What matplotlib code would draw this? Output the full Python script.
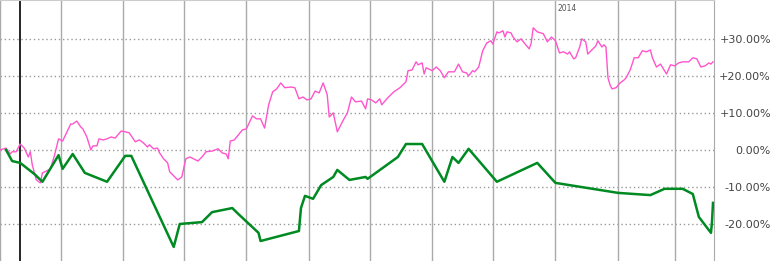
import numpy as np
import matplotlib
matplotlib.use("Agg")
import matplotlib.pyplot as plt
import matplotlib.dates as mdates

# day offsets from 2013-04-01, values in percent
start = np.datetime64("2013-04-01")
marker_day = 10

pink_days = [0, 3, 5, 6, 8, 10, 12, 14, 15, 16, 18, 20, 21, 23, 25, 27, 29, 31, 35, 36,
             38, 40, 41, 43, 45, 46, 48, 49, 51, 53, 55, 57, 60, 62, 64, 67, 69, 71, 73, 74,
             76, 78, 79, 81, 83, 84, 86, 88, 90, 92, 94, 98, 100, 102, 105, 108, 110, 112, 113, 114,
             116, 120, 122, 125, 127, 129, 131, 133, 135, 137, 139, 141, 144, 146, 148, 150, 152, 154, 156, 158,
             160, 162, 163, 165, 167, 170, 172, 174, 176, 179, 181, 182, 184, 186, 188, 189, 192, 195, 198, 201,
             202, 204, 206, 207, 209, 210, 211, 214, 216, 218, 220, 222, 225, 227, 229, 231, 232, 234, 235, 237,
             239, 241, 243, 244, 246, 247, 249, 250, 251, 253, 254, 256, 258, 260, 262, 263, 264, 266, 269, 271,
             273, 275, 277, 279, 281, 282, 284, 285, 287, 288, 290, 291, 293, 295, 296, 298, 299, 300, 301, 302,
             303, 305, 307, 309, 310, 312, 314, 316, 318, 320, 322, 323, 325, 327, 330, 332, 334, 336, 338, 341,
             343, 345, 347, 349, 351, 352, 353]
pink_vals = [0.0, 0.5, -1.1, -0.5, -0.5, 1.6, 0.5, -1.9, -0.5, -4.1, -8.1, -8.9, -6.2, -5.7, -5.1, -1.4, 3.0, 2.4, 7.0, 7.0,
             7.8, 6.2, 5.7, 3.5, 0.0, 1.1, 1.1, 3.0, 2.7, 3.0, 3.5, 3.2, 5.1, 4.9, 4.6, 2.2, 2.7, 1.9, 0.8, 1.4,
             0.3, 0.5, -0.8, -2.4, -3.5, -5.9, -7.0, -8.1, -7.3, -2.4, -1.9, -3.0, -1.9, -0.5, -0.3, 0.3, -0.8, -1.1, -2.4, 2.4,
             2.7, 5.4, 5.7, 9.2, 8.4, 8.4, 5.9, 12.2, 15.7, 16.5, 18.1, 16.8, 17.0, 16.8, 13.8, 14.3, 13.5, 13.8, 15.9, 15.4,
             18.1, 14.9, 8.9, 10.0, 4.9, 8.1, 10.0, 14.3, 13.0, 13.2, 11.1, 13.8, 13.5, 12.7, 13.8, 12.2, 14.1, 15.7, 16.8, 18.4,
             21.4, 21.6, 23.8, 23.0, 23.5, 20.5, 22.2, 21.4, 22.4, 21.4, 19.5, 21.1, 21.1, 23.2, 21.1, 20.8, 20.0, 21.4, 21.1, 22.4,
             26.8, 28.9, 29.5, 28.6, 31.9, 31.6, 32.2, 30.5, 31.9, 31.6, 30.5, 29.2, 30.0, 28.6, 27.3, 28.9, 33.0, 31.9, 31.4, 29.2,
             30.5, 29.5, 26.2, 26.5, 25.9, 26.5, 24.6, 24.9, 27.8, 30.0, 29.2, 25.9, 27.0, 28.1, 29.5, 27.8, 28.4, 27.8, 19.5, 17.6,
             16.5, 16.8, 18.1, 18.9, 19.5, 21.6, 24.9, 24.9, 26.8, 26.5, 27.0, 24.9, 22.4, 23.2, 20.5, 23.0, 22.7, 23.5, 23.8, 23.8,
             24.9, 24.6, 22.4, 22.7, 23.5, 23.2, 23.8]

green_days = [3, 6, 10, 17, 21, 29, 31, 36, 42, 53, 62, 65, 86, 89, 100, 105, 115, 118, 128, 129,
              148, 149, 151, 155, 159, 165, 167, 173, 181, 182, 197, 201, 209, 220, 224, 227, 232, 246, 266, 275,
              306, 322, 329, 338, 343, 346, 352, 352.5, 353]
green_vals = [0.0, -3.0, -3.5, -6.5, -8.6, -1.4, -5.1, -1.1, -6.2, -8.6, -1.6, -1.6, -26.2, -20.0, -19.5, -16.8, -15.7, -17.3, -22.4, -24.6,
              -21.9, -15.7, -12.4, -13.2, -9.5, -7.3, -5.4, -8.1, -7.3, -7.8, -1.9, 1.6, 1.6, -8.6, -1.9, -3.5, 0.3, -8.6, -3.5, -8.9,
              -11.6, -12.2, -10.5, -10.5, -11.9, -18.1, -22.4, -19.5, -14.3]

y_ticks = [30, 20, 10, 0, -10, -20]
y_labels = ["+30.00%", "+20.00%", "+10.00%", "0.00%", "-10.00%", "-20.00%"]

t0 = mdates.date2num(start)
pink_x = t0 + np.array(pink_days, dtype=float)
green_x = t0 + np.array(green_days, dtype=float)

fig = plt.figure(figsize=(7.75, 2.61), dpi=100)
ax = fig.add_axes([0, 0, 714 / 775, 1])

ax.set_xlim(t0, t0 + 353.5)
ax.set_ylim(-30, 40.5)

ax.xaxis.set_major_locator(mdates.MonthLocator())
ax.grid(axis="x", color="#aaaaaa", lw=1)
for y in y_ticks:
    ax.axhline(y, color="#999999", lw=1, ls=(0, (1, 2)), zorder=1)
ax.axvline(t0 + marker_day, color="black", lw=1.2, zorder=2)

ax.plot(pink_x, pink_vals, color="#ff55cc", lw=1, zorder=3)
ax.plot(green_x, green_vals, color="#008a22", lw=1.8, zorder=4)

# year label next to the january gridline
ax.text(mdates.date2num(np.datetime64("2014-01-01")) + 1, 38.2, "2014",
        fontsize=5.5, color="#555555", va="center", ha="left")

ax.set_xticklabels([])
ax.tick_params(axis="x", length=0)
ax.yaxis.tick_right()
ax.set_yticks(y_ticks)
ax.set_yticklabels(y_labels, fontsize=8, color="#444444")
ax.tick_params(axis="y", length=0, pad=41)
for lab in ax.get_yticklabels():
    lab.set_horizontalalignment("right")

for s in ["left", "bottom"]:
    ax.spines[s].set_visible(False)
ax.spines["right"].set_color("#aaaaaa")
ax.spines["top"].set_color("#cccccc")

fig.savefig("out.png", dpi=100)
